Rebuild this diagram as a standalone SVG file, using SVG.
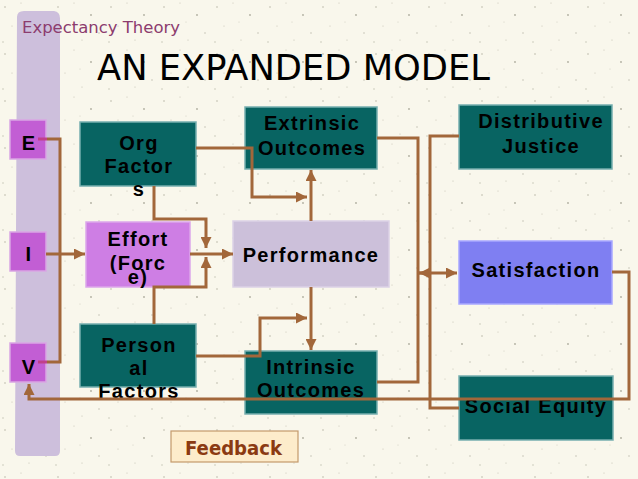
<svg xmlns="http://www.w3.org/2000/svg" width="638" height="479" viewBox="0 0 638 479">
<defs>
<pattern id="speck" width="53" height="47" patternUnits="userSpaceOnUse">
<circle cx="5" cy="7" r="0.8" fill="#b8b6a8"/>
<circle cx="21" cy="3" r="0.6" fill="#c4c2b4"/>
<circle cx="38" cy="15" r="0.9" fill="#b0ae9f"/>
<circle cx="12" cy="26" r="0.6" fill="#c4c2b4"/>
<circle cx="46" cy="33" r="0.7" fill="#b8b6a8"/>
<circle cx="29" cy="40" r="0.6" fill="#c0beaf"/>
<circle cx="3" cy="42" r="0.7" fill="#bdbbac"/>
<circle cx="27" cy="22" r="0.5" fill="#c8c6b8"/>
</pattern>
<marker id="ah" viewBox="0 0 10 10" refX="10" refY="5" markerWidth="11" markerHeight="11" markerUnits="userSpaceOnUse" orient="auto">
<path d="M0,0 L10,5 L0,10 z" fill="#a2673a"/>
</marker>
<style>
.bg{fill:#f9f7ec}
.teal{fill:#086462;stroke:#76aeae;stroke-width:1.5}
.mag{fill:#c25ed4;stroke:#d9a6e3;stroke-width:1.5}
.t{font-family:"Liberation Sans",Arial,sans-serif;font-weight:bold;font-size:20px;letter-spacing:1.3px;text-anchor:middle;fill:#000}
.c{fill:none;stroke:#a2673a;stroke-width:3}
.a{marker-end:url(#ah)}
</style>
</defs>
<rect class="bg" x="0" y="0" width="638" height="479"/>
<rect x="0" y="0" width="638" height="479" fill="url(#speck)"/>
<path d="M17,17 Q17,11 24,11 H54 Q60,12 60,18 V451 Q60,456 55,456 H20 Q15,456 15,451 Z" fill="#cdbfdc"/>
<text x="22" y="33" font-family="DejaVu Sans,sans-serif" font-size="16" fill="#8c3c6e" textLength="158" lengthAdjust="spacingAndGlyphs">Expectancy Theory</text>
<text x="97" y="80" font-family="DejaVu Sans,sans-serif" font-size="35" fill="#000" textLength="393" lengthAdjust="spacingAndGlyphs">AN EXPANDED MODEL</text>

<g id="node-E"><rect class="mag" x="10" y="120" width="36" height="39"/><text class="t" x="29" y="150">E</text></g>
<g id="node-I"><rect class="mag" x="10" y="232" width="36" height="39"/><text class="t" x="29" y="261">I</text></g>
<g id="node-V"><rect class="mag" x="10" y="343" width="36" height="39"/><text class="t" x="29" y="374">V</text></g>

<g id="node-org"><rect class="teal" x="80" y="122" width="116" height="64"/>
<text class="t" x="139" y="150">Org</text><text class="t" x="139" y="173">Factor</text><text class="t" x="139" y="196">s</text></g>

<g id="node-effort"><rect x="86" y="222" width="104" height="65" fill="#ce7ee4" stroke="#dca6ea" stroke-width="1.5"/>
<text class="t" x="138" y="246">Effort</text><text class="t" x="138" y="270">(Forc</text><text class="t" x="138" y="284">e)</text></g>

<g id="node-personal"><rect class="teal" x="80" y="324" width="116" height="63"/>
<text class="t" x="139" y="352">Person</text><text class="t" x="139" y="375">al</text><text class="t" x="139" y="398">Factors</text></g>

<g id="node-extrinsic"><rect class="teal" x="245" y="107" width="132" height="62"/>
<text class="t" x="312" y="130">Extrinsic</text><text class="t" x="312" y="155">Outcomes</text></g>

<g id="node-performance"><rect x="233" y="221" width="156" height="66" fill="#ccc0da" stroke="#dcd2e6" stroke-width="1.5"/>
<text class="t" x="311" y="262">Performance</text></g>

<g id="node-intrinsic"><rect class="teal" x="245" y="351" width="132" height="63"/>
<text class="t" x="311" y="374">Intrinsic</text><text class="t" x="311" y="397">Outcomes</text></g>

<g id="node-justice"><rect class="teal" x="459" y="105" width="153" height="64"/>
<text class="t" x="541" y="128">Distributive</text><text class="t" x="541" y="153">Justice</text></g>

<g id="node-satisfaction"><rect x="459" y="241" width="153" height="63" fill="#7f7ff2" stroke="#a8a8ff" stroke-width="1.5"/>
<text class="t" x="536" y="277">Satisfaction</text></g>

<g id="node-equity"><rect class="teal" x="459" y="376" width="154" height="64"/>
<text class="t" x="536" y="413">Social Equity</text></g>

<g id="connectors">
<path d="M38,139 H47 M38,362 H47" stroke="#c0408a" stroke-width="3" fill="none"/>
<path class="c" d="M47,139 H60 V362 H47"/>
<path class="c a" d="M46,254 H85"/>
<path class="c a" d="M196,148 H252 V197 H307"/>
<path class="c a" d="M311,221 V170"/>
<path class="c a" d="M154,186 V219 H206 V248"/>
<path class="c a" d="M190,254 H233"/>
<path class="c a" d="M154,324 V287 H206 V257"/>
<path class="c a" d="M311,287 V350"/>
<path class="c a" d="M196,356 H260 V318 H307"/>
<path class="c" d="M377,138 H418 V382 H377"/>
<path class="c a" d="M418,273 H457"/>
<path class="c" d="M459,136 H430 V408 H459"/>
<path class="c a" d="M430,273 H419"/>
<path class="c a" d="M612,272 H629 V399 H29 V384"/>
</g>

<g id="node-feedback"><rect x="171" y="431" width="127" height="31" fill="#fdeccb" stroke="#c49a6c" stroke-width="1.2"/>
<text x="185" y="455" font-family="DejaVu Sans,sans-serif" font-weight="bold" font-size="19" fill="#8b3a12" textLength="97" lengthAdjust="spacingAndGlyphs">Feedback</text></g>
</svg>
